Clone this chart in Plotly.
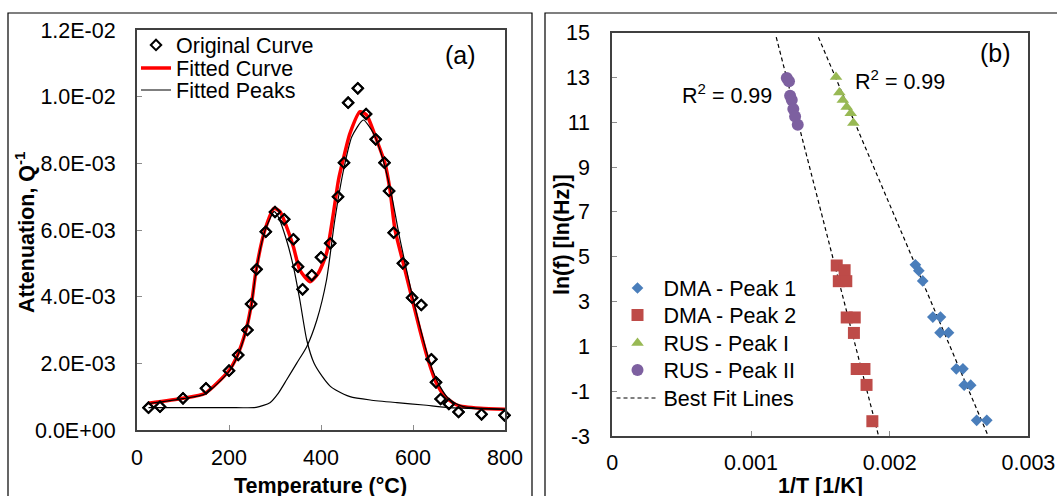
import plotly.graph_objects as go

W, H = 1057, 496
FONT = "Liberation Sans, Arial, sans-serif"
FS = 21.5

# ---------------- Panel (a) data ----------------
T_orig = [25, 50, 100, 150, 200, 220, 240, 248, 260, 280, 300, 320, 340, 350, 360, 380, 400, 420,
          437, 450, 459, 480, 498, 519, 538, 548, 558, 578, 598, 618, 640, 650, 660, 678, 699, 749, 799]
Q_orig = [6.7e-4, 7.0e-4, 9.5e-4, 1.25e-3, 1.78e-3, 2.25e-3, 3.0e-3, 3.78e-3, 4.82e-3, 5.95e-3,
          6.54e-3, 6.32e-3, 5.72e-3, 4.9e-3, 4.22e-3, 4.64e-3, 5.18e-3, 5.6e-3, 7.0e-3, 8.02e-3,
          9.82e-3, 1.025e-2, 9.48e-3, 8.72e-3, 8.02e-3, 7.17e-3, 5.92e-3, 5.0e-3, 3.97e-3, 3.75e-3,
          2.12e-3, 1.43e-3, 9.3e-4, 7.8e-4, 5.4e-4, 4.7e-4, 4.4e-4]

T_fit = [25, 100, 148, 198, 217, 237, 249, 259, 278, 298, 311, 325, 340, 354, 376, 394, 412, 427,
         438, 448, 463, 485, 499, 521, 539, 550, 561, 579, 597, 615, 633, 651, 670, 695, 746, 800]
Q_fit = [8.0e-4, 9.5e-4, 1.1e-3, 1.75e-3, 2.2e-3, 3.0e-3, 3.8e-3, 4.8e-3, 6.0e-3, 6.65e-3, 6.55e-3,
         6.1e-3, 5.5e-3, 4.8e-3, 4.45e-3, 4.7e-3, 5.3e-3, 6.5e-3, 7.5e-3, 8.1e-3, 8.9e-3, 9.55e-3,
         9.45e-3, 8.7e-3, 8.0e-3, 7.2e-3, 6.0e-3, 5.0e-3, 4.0e-3, 3.0e-3, 2.1e-3, 1.4e-3, 1.0e-3,
         7.5e-4, 6.5e-4, 6.2e-4]

T_pk1 = [25, 100, 148, 198, 217, 237, 249, 259, 278, 298, 307, 325, 340, 354, 369, 385, 403, 421,
         432, 463, 507, 565, 623, 680, 800]
Q_pk1 = [7.9e-4, 9.4e-4, 1.08e-3, 1.72e-3, 2.17e-3, 2.97e-3, 3.77e-3, 4.77e-3, 5.97e-3, 6.55e-3,
         6.4e-3, 5.7e-3, 4.9e-3, 3.9e-3, 2.7e-3, 2.0e-3, 1.6e-3, 1.3e-3, 1.2e-3, 1.0e-3, 9.0e-4,
         8.2e-4, 7.5e-4, 6.7e-4, 6.2e-4]

T_pk2 = [25, 100, 200, 259, 289, 307, 325, 347, 369, 391, 412, 430, 449, 467, 492, 514, 535, 554,
         572, 594, 615, 637, 659, 680, 710, 800]
Q_pk2 = [6.7e-4, 6.7e-4, 6.7e-4, 6.8e-4, 8.2e-4, 1.1e-3, 1.5e-3, 2.0e-3, 2.5e-3, 3.3e-3, 4.5e-3,
         6.3e-3, 7.8e-3, 8.8e-3, 9.3e-3, 8.9e-3, 8.1e-3, 7.0e-3, 5.7e-3, 4.3e-3, 3.1e-3, 2.0e-3,
         1.3e-3, 9.0e-4, 7.0e-4, 6.2e-4]

a_xticks = [0, 200, 400, 600, 800]
a_yticks = [0, 0.002, 0.004, 0.006, 0.008, 0.010, 0.012]
a_yticktext = ["0.0E+00", "2.0E-03", "4.0E-03", "6.0E-03", "8.0E-03", "1.0E-02", "1.2E-02"]

# ---------------- Panel (b) data ----------------
dma1_x = [0.002185, 0.002210, 0.002238, 0.002311, 0.002366, 0.002363, 0.002424, 0.002480,
          0.002528, 0.002537, 0.002584, 0.002627, 0.002700]
dma1_y = [4.64, 4.38, 3.92, 2.31, 2.31, 1.61, 1.61, 0.0, 0.0, -0.73, -0.73, -2.30, -2.30]
dma2_x = [0.001618, 0.001675, 0.001633, 0.001687, 0.001690, 0.001748, 0.001742, 0.001762,
          0.001818, 0.001833, 0.001875]
dma2_y = [4.61, 4.40, 3.91, 3.91, 2.29, 2.29, 1.60, -0.01, -0.01, -0.72, -2.34]
rus1_x = [0.001613, 0.001637, 0.001662, 0.001690, 0.001719, 0.001738]
rus1_y = [13.02, 12.33, 12.0, 11.68, 11.41, 10.97]
rus2_x = [0.001258, 0.001274, 0.001282, 0.001294, 0.001305, 0.001318, 0.001337]
rus2_y = [12.98, 12.83, 12.19, 12.0, 11.59, 11.26, 10.89]
fit1_x = [0.001182, 0.001920]
fit1_y = [14.8, -3.0]
fit2_x = [0.001486, 0.002710]
fit2_y = [14.8, -3.0]

b_xticks = [0, 0.001, 0.002, 0.003]
b_xticktext = ["0", "0.001", "0.002", "0.003"]
b_yticks = [-3, -1, 1, 3, 5, 7, 9, 11, 13, 15]
b_yticktext = ["-3", "-1", "1", "3", "5", "7", "9", "11", "13", "15"]


def px(x):
    return x / W


def py(y):
    return 1 - y / H


fig = go.Figure()

# panel (a)
fig.add_trace(go.Scatter(x=T_orig, y=Q_orig, mode="markers", name="Original Curve",
                         marker=dict(symbol="diamond-open", size=8, color="black",
                                     line=dict(width=2, color="black")),
                         xaxis="x", yaxis="y", legend="legend", cliponaxis=False))
fig.add_trace(go.Scatter(x=T_fit, y=Q_fit, mode="lines", name="Fitted Curve",
                         line=dict(color="#ff0000", width=3.5, shape="spline", smoothing=0.6),
                         xaxis="x", yaxis="y", legend="legend2"))
fig.add_trace(go.Scatter(x=T_pk1, y=Q_pk1, mode="lines", name="Fitted Peaks",
                         line=dict(color="black", width=1.2, shape="spline", smoothing=0.6),
                         xaxis="x", yaxis="y", legend="legend3"))
fig.add_trace(go.Scatter(x=T_pk2, y=Q_pk2, mode="lines", name="Fitted Peaks", showlegend=False,
                         line=dict(color="black", width=1.2, shape="spline", smoothing=0.6),
                         xaxis="x", yaxis="y"))
# redraw markers above lines
fig.add_trace(go.Scatter(x=T_orig, y=Q_orig, mode="markers", showlegend=False, hoverinfo="skip",
                         marker=dict(symbol="diamond-open", size=8, color="black",
                                     line=dict(width=2, color="black")),
                         xaxis="x", yaxis="y", cliponaxis=False))

# panel (b)
fig.add_trace(go.Scatter(x=fit1_x, y=fit1_y, mode="lines", name="Best Fit Lines",
                         line=dict(color="black", width=1.2, dash="4px,3px"),
                         xaxis="x2", yaxis="y2", legend="legend8"))
fig.add_trace(go.Scatter(x=fit2_x, y=fit2_y, mode="lines", showlegend=False,
                         line=dict(color="black", width=1.2, dash="4px,3px"),
                         xaxis="x2", yaxis="y2"))
fig.add_trace(go.Scatter(x=dma1_x, y=dma1_y, mode="markers", name="DMA - Peak 1",
                         marker=dict(symbol="diamond", size=9, color="#4a7ebb"),
                         xaxis="x2", yaxis="y2", legend="legend4"))
fig.add_trace(go.Scatter(x=dma2_x, y=dma2_y, mode="markers", name="DMA - Peak 2",
                         marker=dict(symbol="square", size=12, color="#be4b48"),
                         xaxis="x2", yaxis="y2", legend="legend5"))
fig.add_trace(go.Scatter(x=rus1_x, y=rus1_y, mode="markers", name="RUS - Peak I",
                         marker=dict(symbol="triangle-up", size=11, color="#98b954"),
                         xaxis="x2", yaxis="y2", legend="legend6"))
fig.add_trace(go.Scatter(x=rus2_x, y=rus2_y, mode="markers", name="RUS - Peak II",
                         marker=dict(symbol="circle", size=12, color="#7d60a0"),
                         xaxis="x2", yaxis="y2", legend="legend7"))

frame = dict(showline=True, mirror=True, linecolor="#404040", linewidth=2,
             ticks="inside", ticklen=5, tickcolor="#8c8c8c", tickwidth=1,
             showgrid=False, zeroline=False,
             tickfont=dict(family=FONT, size=FS, color="black"))

fig.update_layout(
    width=W, height=H,
    margin=dict(l=0, r=0, t=0, b=0, pad=0, autoexpand=False),
    paper_bgcolor="white", plot_bgcolor="white",
    font=dict(family=FONT, size=FS, color="black"),
    xaxis=dict(domain=[px(137), px(505)], range=[0, 800], tickvals=a_xticks,
               anchor="y", ticklabelstandoff=7, **frame),
    yaxis=dict(domain=[py(430), py(30)], range=[0, 0.012], tickvals=a_yticks,
               ticktext=a_yticktext, anchor="x", ticklabelstandoff=15, **frame),
    xaxis2=dict(domain=[px(612.3), px(1028.4)], range=[0, 0.003], tickvals=b_xticks,
                ticktext=b_xticktext, anchor="y2", ticklabelstandoff=6, **frame),
    yaxis2=dict(domain=[py(436), py(32.7)], range=[-3, 15], tickvals=b_yticks,
                ticktext=b_yticktext, anchor="x2", ticklabelstandoff=16, **frame),
)

leg_common = dict(bgcolor="rgba(0,0,0,0)", borderwidth=0, xanchor="left", yanchor="middle",
                  font=dict(family=FONT, size=FS, color="black"))
fig.update_layout(
    legend=dict(x=px(136), y=py(45), itemwidth=30, **leg_common),
    legend2=dict(x=px(136), y=py(68), itemwidth=30, **leg_common),
    legend3=dict(x=px(136), y=py(90), itemwidth=30, **leg_common),
    legend4=dict(x=px(611.5), y=py(288), itemwidth=42, **leg_common),
    legend5=dict(x=px(611.5), y=py(315), itemwidth=42, **leg_common),
    legend6=dict(x=px(611.5), y=py(343), itemwidth=42, **leg_common),
    legend7=dict(x=px(611.5), y=py(370), itemwidth=42, **leg_common),
    legend8=dict(x=px(611.5), y=py(398), itemwidth=42, **leg_common),
)

ann = []
ann.append(dict(text="<b>Attenuation, Q<sup>-1</sup></b>", x=px(25), y=py(232), textangle=-90,
                xanchor="center", yanchor="middle"))
ann.append(dict(text="<b>Temperature (°C)</b>", x=px(321), y=py(472), xanchor="center", yanchor="top"))
ann.append(dict(text="<b>ln(f) [ln(Hz)]</b>", x=px(562), y=py(235), textangle=-90,
                xanchor="center", yanchor="middle"))
ann.append(dict(text="<b>1/T [1/K]</b>", x=px(820), y=py(472), xanchor="center", yanchor="top"))
ann.append(dict(text="(a)", x=px(460), y=py(55), xanchor="center", yanchor="middle",
                font=dict(family=FONT, size=25, color="black")))
ann.append(dict(text="(b)", x=px(995.5), y=py(53), xanchor="center", yanchor="middle",
                font=dict(family=FONT, size=25, color="black")))
ann.append(dict(text="R<sup>2</sup> = 0.99", x=px(774), y=py(94), xanchor="right", yanchor="middle"))
ann.append(dict(text="R<sup>2</sup> = 0.99", x=px(853), y=py(80), xanchor="left", yanchor="middle"))
for a in ann:
    a.update(xref="paper", yref="paper", showarrow=False)
    a.setdefault("font", dict(family=FONT, size=FS, color="black"))
fig.update_layout(annotations=ann)

fig.update_layout(shapes=[
    dict(type="rect", xref="paper", yref="paper", x0=px(8), x1=px(532), y0=-0.1, y1=py(13),
         line=dict(color="black", width=1.2), fillcolor="rgba(0,0,0,0)", layer="below"),
    dict(type="rect", xref="paper", yref="paper", x0=px(545), x1=1.1, y0=-0.1, y1=py(13),
         line=dict(color="black", width=1.2), fillcolor="rgba(0,0,0,0)", layer="below"),
])

fig.write_html("out.html")
